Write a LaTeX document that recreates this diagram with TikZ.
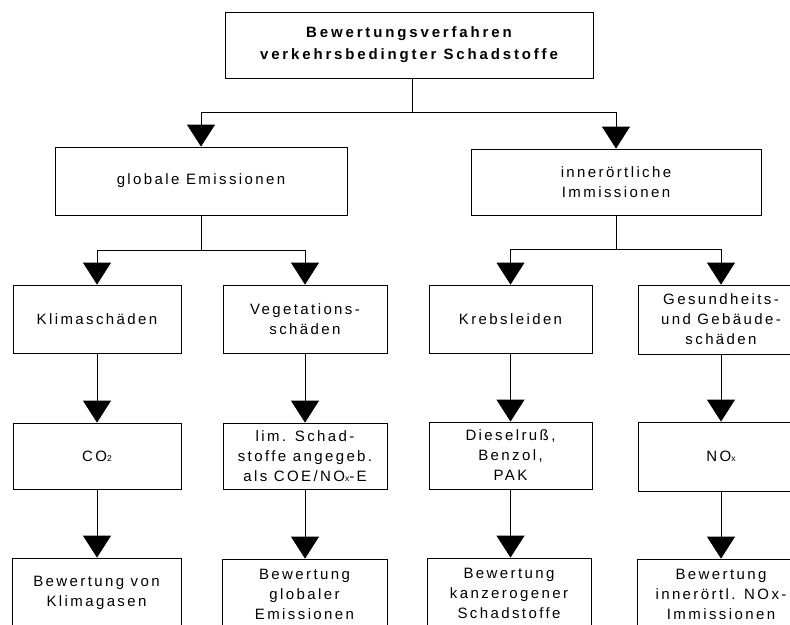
\documentclass[tikz,border=0pt]{standalone}
\usepackage{fontspec}
\setmainfont[LetterSpace=16]{Liberation Sans}
\newfontfamily\titlefont[LetterSpace=19]{Liberation Sans}
\usetikzlibrary{arrows.meta}
\newcommand{\lowsub}[1]{{\fontsize{8.5}{8.5}\selectfont #1}}
\tikzset{
  box/.style={draw=black, line width=0.8pt, fill=white, inner sep=0pt, align=center,
    font=\fontsize{15}{20}\selectfont},
  titlebox/.style={box, font=\titlefont\fontsize{15}{22}\selectfont\bfseries},
  conn/.style={draw=black, line width=0.8pt},
  arr/.style={conn, -{Triangle[width=28pt,length=22pt]}}
}
\begin{document}
\begin{tikzpicture}[x=1pt,y=-1pt]
\useasboundingbox (0,0) rectangle (790,624);
\clip (0,0) rectangle (790,624);
% boxes
\node[titlebox, minimum width=368, minimum height=66] (top) at (409,45) {Bewertungsverfahren\\verkehrsbedingter Schadstoffe};
\node[box, minimum width=292, minimum height=68] (glob) at (201,181) {globale Emissionen};
\node[box, minimum width=290, minimum height=66] (inner) at (616,182) {innerörtliche\\Immissionen};
\node[box, minimum width=168, minimum height=68] (klima) at (97,319) {Klimaschäden};
\node[box, minimum width=164, minimum height=68] (veg) at (305,319) {Vegetations-\\schäden};
\node[box, minimum width=163, minimum height=68] (krebs) at (510.5,319) {Krebsleiden};
\node[box, minimum width=166, minimum height=69] (gesund) at (721,319.5) {Gesundheits-\\und Gebäude-\\schäden};
\node[box, minimum width=168, minimum height=66] (co2) at (97,456) {CO\lowsub{2}};
\node[box, minimum width=164, minimum height=66] (lim) at (305,456) {lim. Schad-\\stoffe angegeb.\\als COE/NO\lowsub{x}-E};
\node[box, minimum width=163, minimum height=67] (diesel) at (510.5,455.5) {Dieselruß,\\Benzol,\\PAK};
\node[box, minimum width=166, minimum height=69] (nox) at (721,456.5) {NO\lowsub{x}};
\node[box, minimum width=169, minimum height=70] (bk) at (96.5,593) {Bewertung von\\Klimagasen};
\node[box, minimum width=165, minimum height=70] (bg) at (304.5,594) {Bewertung\\globaler\\Emissionen};
\node[box, minimum width=164, minimum height=70] (bz) at (509,593) {Bewertung\\kanzerogener\\Schadstoffe};
\node[box, minimum width=168, minimum height=70] (bn) at (721,594) {Bewertung\\innerörtl. NOx-\\Immissionen};
% junctions
\coordinate (j0) at (412,112);
\coordinate (j1) at (201,250);
\coordinate (j2) at (616,249);
% connectors
\draw[conn] (top.south -| j0) -- (j0);
\draw[arr] (j0) -| (glob.north);
\draw[arr] (j0) -| (inner.north);
\draw[conn] (glob.south) -- (j1);
\draw[arr] (j1) -| (klima.north);
\draw[arr] (j1) -| (veg.north);
\draw[conn] (inner.south) -- (j2);
\draw[arr] (j2) -| (krebs.north);
\draw[arr] (j2) -| (gesund.north);
\draw[arr] (klima.south) -- (co2.north);
\draw[arr] (veg.south) -- (lim.north);
\draw[arr] (krebs.south) -- (diesel.north);
\draw[arr] (gesund.south) -- (nox.north);
\draw[arr] (co2.south) -- (co2.south |- bk.north);
\draw[arr] (lim.south) -- (lim.south |- bg.north);
\draw[arr] (diesel.south) -- (diesel.south |- bz.north);
\draw[arr] (nox.south) -- (nox.south |- bn.north);
\end{tikzpicture}
\end{document}
